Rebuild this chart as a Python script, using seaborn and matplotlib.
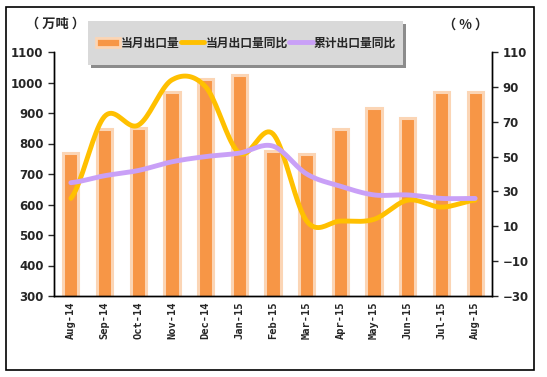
import numpy as np
import pandas as pd
import matplotlib
matplotlib.use("Agg")
import matplotlib.pyplot as plt
import seaborn as sns
from matplotlib.patches import Rectangle, Patch
from matplotlib.lines import Line2D

months = ["Aug-14", "Sep-14", "Oct-14", "Nov-14", "Dec-14", "Jan-15", "Feb-15",
          "Mar-15", "Apr-15", "May-15", "Jun-15", "Jul-15", "Aug-15"]
export_volume = [770, 848, 850, 968, 1012, 1025, 775, 765, 848, 915, 882, 968, 968]
monthly_yoy = [26, 73, 68, 94, 90, 52, 63, 13, 13, 14, 25, 21, 25]
cumulative_yoy = [35, 39, 42, 47, 50, 52, 56, 40, 33, 28, 28, 26, 26]

sns.set_theme(style="white")
plt.rcParams["font.family"] = ["Noto Sans CJK SC", "DejaVu Sans"]

BAR = "#F79646"
BAR_EDGE = "#FBD5B5"
YELLOW = "#FFC000"
PURPLE = "#C9A0F7"


def smooth(y, n=20):
    # catmull-rom style curve through the points, like excel "smoothed line"
    y = np.asarray(y, float)
    p = np.concatenate([[y[0]], y, [y[-1]]])
    xs, ys = [], []
    for i in range(len(y) - 1):
        p0, p1, p2, p3 = p[i], p[i + 1], p[i + 2], p[i + 3]
        t = np.linspace(0, 1, n, endpoint=False)
        ys.append(0.5 * (2 * p1 + (-p0 + p2) * t + (2 * p0 - 5 * p1 + 4 * p2 - p3) * t ** 2
                         + (-p0 + 3 * p1 - 3 * p2 + p3) * t ** 3))
        xs.append(i + t)
    xs.append([len(y) - 1])
    ys.append([y[-1]])
    return np.concatenate(xs), np.concatenate(ys)


df = pd.DataFrame({"month": months, "volume": export_volume})

fig = plt.figure(figsize=(5.47, 3.77), dpi=100)
ax = fig.add_axes([54 / 547, 1 - 296 / 377, (492 - 54) / 547, (296 - 52) / 377])

sns.barplot(data=df, x="month", y="volume", color=BAR, width=0.45,
            edgecolor=BAR_EDGE, linewidth=2.2, saturation=1, ax=ax)
ax.set_ylim(300, 1100)
ax.set_yticks(range(300, 1101, 100))
ax.set_xlim(-0.5, len(months) - 0.5)
ax.set_xlabel("")
ax.set_ylabel("")

ax2 = ax.twinx()
x1, y1 = smooth(monthly_yoy)
x2, y2 = smooth(cumulative_yoy)
sns.lineplot(x=x1, y=y1, color=YELLOW, lw=3.5, ax=ax2, sort=False)
sns.lineplot(x=x2, y=y2, color=PURPLE, lw=3.5, ax=ax2, sort=False)
ax2.set_ylim(-30, 110)
ax2.set_yticks(range(-30, 111, 20))

for a in (ax, ax2):
    for s in a.spines.values():
        s.set_color("black")
        s.set_linewidth(1)
    a.spines["top"].set_visible(False)

ax.set_xticks(np.arange(len(months)))
ax.set_xticklabels(months, rotation=90, fontsize=7.5, fontweight="bold",
                   family="DejaVu Sans Mono")
ax.tick_params(axis="x", length=0, pad=4)
ax.set_xticks(np.arange(len(months) + 1) - 0.5, minor=True)
ax.tick_params(axis="x", which="minor", length=4, direction="out", width=1)
ax.tick_params(axis="y", length=4, direction="out", width=1, labelsize=8.5)
ax2.tick_params(axis="y", length=4, direction="out", width=1, labelsize=8.5)
for lab in ax.get_yticklabels() + ax2.get_yticklabels():
    lab.set_fontweight("bold")
    lab.set_family("DejaVu Sans")

fig.text(56 / 547, 1 - 24 / 377, "（ 万吨 ）", fontsize=9.5, fontweight="bold",
         va="center", ha="center")
fig.text(466 / 547, 1 - 25 / 377, "（ % ）", fontsize=9.5, fontweight="bold",
         va="center", ha="center")

# legend box with drop shadow, drawn by hand so it can be sized like the original
fig.patches.append(Rectangle((91 / 547, 1 - 68 / 377), 315 / 547, 44 / 377,
                             transform=fig.transFigure, facecolor="#8C8C8C",
                             edgecolor="none", zorder=0))
fig.patches.append(Rectangle((88 / 547, 1 - 65 / 377), 315 / 547, 44 / 377,
                             transform=fig.transFigure, facecolor="#D9D9D9",
                             edgecolor="none", zorder=0))

handles = [Patch(facecolor=BAR, edgecolor=BAR_EDGE, linewidth=2),
           Line2D([], [], color=YELLOW, lw=3.5),
           Line2D([], [], color=PURPLE, lw=3.5)]
fig.legend(handles, ["当月出口量", "当月出口量同比", "累计出口量同比"],
           loc="center", bbox_to_anchor=(246 / 547, 1 - 43 / 377), ncol=3,
           frameon=False, handlelength=2.0, handletextpad=0.1,
           columnspacing=0.1, borderpad=0, prop={"weight": "bold", "size": 8.5})

fig.patches.append(Rectangle((6 / 547, 1 - 370 / 377), 528 / 547, 363 / 377,
                             transform=fig.transFigure, fill=False,
                             edgecolor="black", lw=1.2))

fig.savefig("out.png", dpi=100)
